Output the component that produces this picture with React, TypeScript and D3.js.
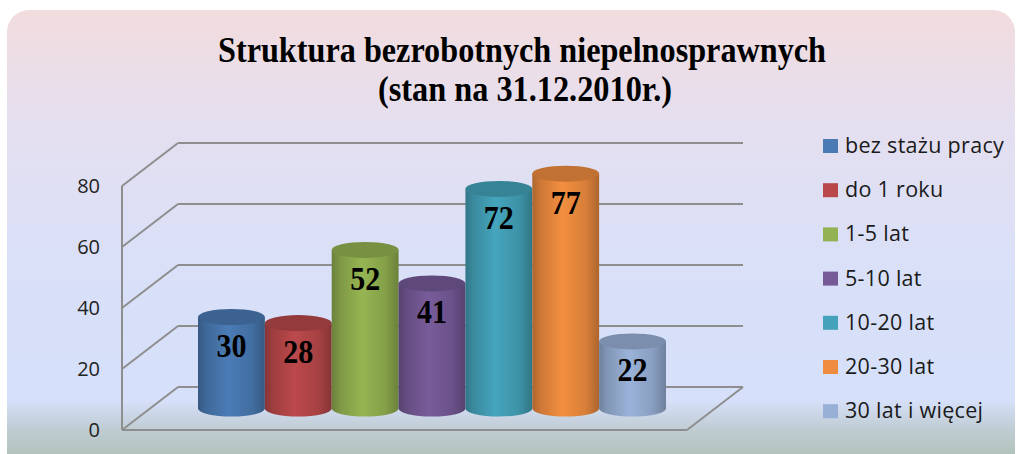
import * as d3 from "d3";

const categories = [
  "bez stażu pracy",
  "do 1 roku",
  "1-5 lat",
  "5-10 lat",
  "10-20 lat",
  "20-30 lat",
  "30 lat i więcej",
];
const values = [30, 28, 52, 41, 72, 77, 22];
const colors = ["#4a7ab3", "#b9484a", "#93b251", "#765a98", "#44a2ba", "#ef8c3f", "#98b0d6"];
const yTicks = [0, 20, 40, 60, 80];
const titleLines = ["Struktura bezrobotnych niepelnosprawnych", "(stan na 31.12.2010r.)"];

const W = 1019;
const H = 454;

// 3d depth of the floor: back wall is shifted by (depthX, -depthY)
const depthX = 56;
const depthY = 43;
const frontLeft = 122;
const frontRight = 687;

export default function App() {
  // y on the back wall
  const y = d3.scaleLinear().domain([0, 80]).range([387, 143]);
  const yFront = (v: number) => y(v) + depthY;
  const yMid = (v: number) => y(v) + depthY / 2;

  const x = d3.scaleBand<string>().domain(categories).range([198, 666]).paddingInner(0).paddingOuter(0);
  const rx = x.bandwidth() / 2;
  const ry = 8;

  const grid = "#8e8e8e";

  return (
    <svg width={W} height={H} style={{ position: "absolute", left: 0, top: 0 }}>
      <defs>
        <linearGradient id="bg" x1="0" y1="0" x2="0" y2="1">
          <stop offset="0" stopColor="#f2dcde" />
          <stop offset="0.25" stopColor="#e4dff0" />
          <stop offset="0.55" stopColor="#d9e0f8" />
          <stop offset="0.83" stopColor="#d6e0fa" />
          <stop offset="0.89" stopColor="#c0cdd4" />
          <stop offset="1" stopColor="#a3b7a3" />
        </linearGradient>
        {colors.map((c, i) => {
          const base = d3.color(c)!;
          return (
            <linearGradient key={i} id={`cyl${i}`} x1="0" y1="0" x2="1" y2="0">
              <stop offset="0" stopColor={base.darker(0.9).formatHex()} />
              <stop offset="0.12" stopColor={base.darker(0.45).formatHex()} />
              <stop offset="0.45" stopColor={base.brighter(0.05).formatHex()} />
              <stop offset="0.8" stopColor={base.darker(0.3).formatHex()} />
              <stop offset="1" stopColor={base.darker(0.9).formatHex()} />
            </linearGradient>
          );
        })}
      </defs>

      <rect x={7} y={10} width={1008} height={470} rx={22} fill="url(#bg)" />

      {/* title */}
      <g fontFamily="'Liberation Serif', 'Times New Roman', serif" fontWeight="bold" fill="#000" textAnchor="middle">
        <text x={522} y={62} fontSize={36} textLength={608} lengthAdjust="spacingAndGlyphs">
          {titleLines[0]}
        </text>
        <text x={525} y={101} fontSize={36} textLength={294} lengthAdjust="spacingAndGlyphs">
          {titleLines[1]}
        </text>
      </g>

      {/* walls and gridlines */}
      <g stroke={grid} strokeWidth={2} fill="none">
        {yTicks.map((t) => (
          <g key={t}>
            <line x1={frontLeft + depthX} x2={frontRight + depthX} y1={y(t)} y2={y(t)} />
            <line x1={frontLeft} y1={yFront(t)} x2={frontLeft + depthX} y2={y(t)} />
          </g>
        ))}
        <line x1={frontLeft} x2={frontLeft} y1={yFront(80)} y2={yFront(0)} />
        <line x1={frontLeft} x2={frontRight} y1={yFront(0)} y2={yFront(0)} />
        <line x1={frontRight} y1={yFront(0)} x2={frontRight + depthX} y2={y(0)} />
      </g>

      {/* tick labels */}
      <g fontFamily="'Open Sans', sans-serif" fontSize={20} fill="#222" textAnchor="end">
        {yTicks.map((t) => (
          <text key={t} x={100} y={yFront(t) + 7}>
            {t}
          </text>
        ))}
      </g>

      {/* cylinders */}
      {categories.map((c, i) => {
        const cx = x(c)! + rx;
        const top = yMid(values[i]);
        const bottom = yMid(0);
        const base = d3.color(colors[i])!;
        return (
          <g key={c}>
            <path
              d={`M${cx - rx},${top} L${cx - rx},${bottom} A${rx},${ry} 0 0 0 ${cx + rx},${bottom} L${cx + rx},${top} Z`}
              fill={`url(#cyl${i})`}
            />
            <ellipse cx={cx} cy={top} rx={rx} ry={ry} fill={base.darker(0.6).formatHex()} />
            <text
              x={cx}
              y={top + 40}
              textAnchor="middle"
              fontFamily="'Liberation Serif', 'Times New Roman', serif"
              fontWeight="bold"
              fontSize={34}
              textLength={30}
              lengthAdjust="spacingAndGlyphs"
              fill="#000"
            >
              {values[i]}
            </text>
          </g>
        );
      })}

      {/* legend */}
      <g fontFamily="'Open Sans', sans-serif" fontSize={21.5} letterSpacing={0.3} fill="#1a1a1a">
        {categories.map((c, i) => (
          <g key={c} transform={`translate(823,${146 + i * 44.2})`}>
            <rect x={0} y={-7} width={15} height={14} fill={colors[i]} />
            <text x={22} y={7}>
              {c}
            </text>
          </g>
        ))}
      </g>
    </svg>
  );
}
